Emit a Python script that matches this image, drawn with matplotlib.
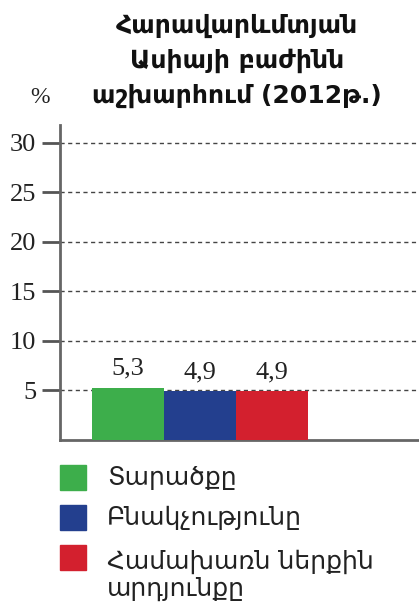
import matplotlib
matplotlib.use("Agg")
import matplotlib.pyplot as plt
from matplotlib.patches import Rectangle

categories = ["Տարածքը", "Բնակչությունը", "Համախառն ներքին\nարդյունքը"]
values = [5.3, 4.9, 4.9]
value_labels = ["5,3", "4,9", "4,9"]
colors = ["#3dae4b", "#233f8e", "#d3202e"]
yticks = [5, 10, 15, 20, 25, 30]
title = "Հարավարևմտյան\nԱսիայի բաժինն\nաշխարհում (2012թ.)"

W, H = 419, 603
fig = plt.figure(figsize=(W / 100, H / 100), dpi=100)
ax = fig.add_axes([60 / W, 1 - 440 / H, 359 / W, (440 - 125) / H])

x = list(range(len(values)))
bars = ax.bar(x, values, width=1.0, color=colors, zorder=3)
ax.set_xlim(-0.944, 4.04)
ax.set_ylim(0, 31.8)
ax.set_yticks(yticks)
ax.set_yticklabels([str(v) for v in yticks], family="Liberation Serif", fontsize=19, color="#222222")
ax.set_xticks([])
ax.tick_params(axis="y", direction="out", length=13, width=2, color="#555555", pad=4)
for s in ["top", "right"]:
    ax.spines[s].set_visible(False)
for s in ["left", "bottom"]:
    ax.spines[s].set_color("#666666")
    ax.spines[s].set_linewidth(2)
ax.grid(axis="y", linestyle=(0, (3, 2.5)), color="#444444", linewidth=1, zorder=1)

for xi, v, lab in zip(x, values, value_labels):
    ax.annotate(lab, (xi, v), xytext=(0, 6), textcoords="offset points",
                ha="center", va="bottom", family="Liberation Serif", fontsize=19, color="#222222")

fig.text(40 / W, 1 - 103 / H, "%", family="Liberation Serif", fontsize=17, ha="center", va="baseline", color="#222222")
for i, line in enumerate(title.split("\n")):
    fig.text(237 / W, 1 - (33 + 35 * i) / H, line, family="DejaVu Sans", fontweight="bold", fontsize=18,
             ha="center", va="baseline", color="#111111")

# legend
ys = [465, 505, 545]
bases = [485, 525, 569]
for yy, yb, c, lab in zip(ys, bases, colors, categories):
    fig.add_artist(Rectangle((60 / W, 1 - (yy + 25) / H), 26 / W, 25 / H,
                             transform=fig.transFigure, color=c))
    for i, r in enumerate(lab.split("\n")):
        fig.text(107 / W, 1 - (yb + 27 * i) / H, r, family="DejaVu Sans", fontsize=18,
                 ha="left", va="baseline", color="#222222")

fig.savefig("out.png", dpi=100)
